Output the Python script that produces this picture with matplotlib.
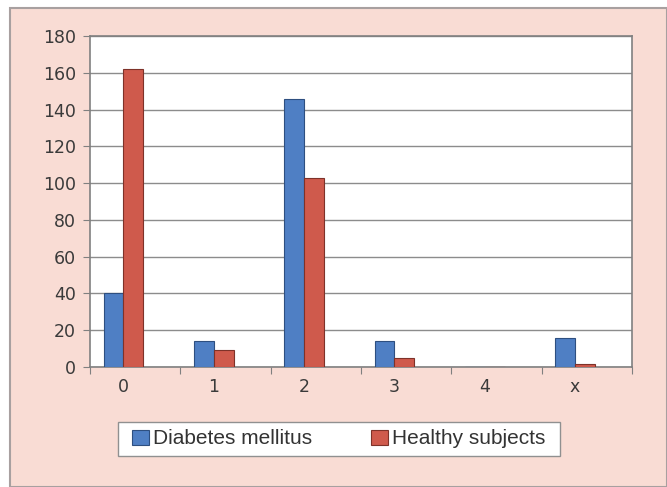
import matplotlib
matplotlib.use("Agg")
import matplotlib.pyplot as plt
from matplotlib.patches import Rectangle
import numpy as np

plt.rcParams['font.family'] = ['Liberation Sans', 'DejaVu Sans']

# data
categories = ["0", "1", "2", "3", "4", "x"]
diabetes = [40, 14, 146, 14, 0, 16]
healthy = [162, 9, 103, 5, 0, 1.5]
series_names = ["Diabetes mellitus", "Healthy subjects"]

W, H = 667, 487
fig = plt.figure(figsize=(W / 100, H / 100), dpi=100)
fig.patch.set_facecolor("white")

# pink chart background with grey frame
fig.patches.append(Rectangle((10 / W, 0), 1 - 10 / W, 1 - 8 / H,
                             transform=fig.transFigure, facecolor="#f9dcd4",
                             edgecolor="#a8a0a0", linewidth=1.5, zorder=-10))
# legend box (drawn separately so the padding can differ per side)
fig.patches.append(Rectangle((118 / W, 1 - 456 / H), 442 / W, 34 / H,
                             transform=fig.transFigure, facecolor="white",
                             edgecolor="#909090", linewidth=1.0, zorder=-5))

ax = fig.add_axes([90 / W, 1 - 367 / H, 542 / W, 331 / H])
ax.set_facecolor("white")

x = np.arange(len(categories)) + 0.37
w = 0.22
ax.bar(x - w / 2, diabetes, w, color="#4f7fc4", edgecolor="#2e4f80",
       linewidth=0.8, zorder=3, label=series_names[0])
ax.bar(x + w / 2, healthy, w, color="#cf5a4c", edgecolor="#7e3229",
       linewidth=0.8, zorder=3, label=series_names[1])

ax.set_xlim(0, len(categories))
ax.set_ylim(0, 180)
ax.set_yticks(np.arange(0, 181, 20))
ax.yaxis.grid(True, color="#8c8c8c", linewidth=1.0, zorder=0)

# ticks at category boundaries, labels at the bar groups
ax.set_xticks(np.arange(0, len(categories) + 1))
ax.set_xticklabels([])
ax.set_xticks(x, minor=True)
ax.set_xticklabels(categories, minor=True)
ax.tick_params(axis="x", which="minor", length=0, pad=8)
ax.tick_params(axis="x", which="major", length=5, color="#808080")
ax.tick_params(axis="y", length=5, color="#808080", pad=5)
ax.tick_params(labelsize=12.5, labelcolor="#3a3a3a", which="both")
for lbl in ax.get_yticklabels() + ax.get_xticklabels(minor=True):
    lbl.set_fontfamily("DejaVu Sans")

for s in ax.spines.values():
    s.set_color("#808080")
    s.set_linewidth(1.2)

leg = fig.legend(loc="center", bbox_to_anchor=(338.5 / W, 1 - 439 / H), ncol=2,
                 fontsize=15, frameon=False,
                 handlelength=0.85, handleheight=0.72, handletextpad=0.18,
                 columnspacing=2.8, borderpad=0, borderaxespad=0)
for t in leg.get_texts():
    t.set_color("#333333")

fig.savefig("out.png", dpi=100, facecolor=fig.get_facecolor())
